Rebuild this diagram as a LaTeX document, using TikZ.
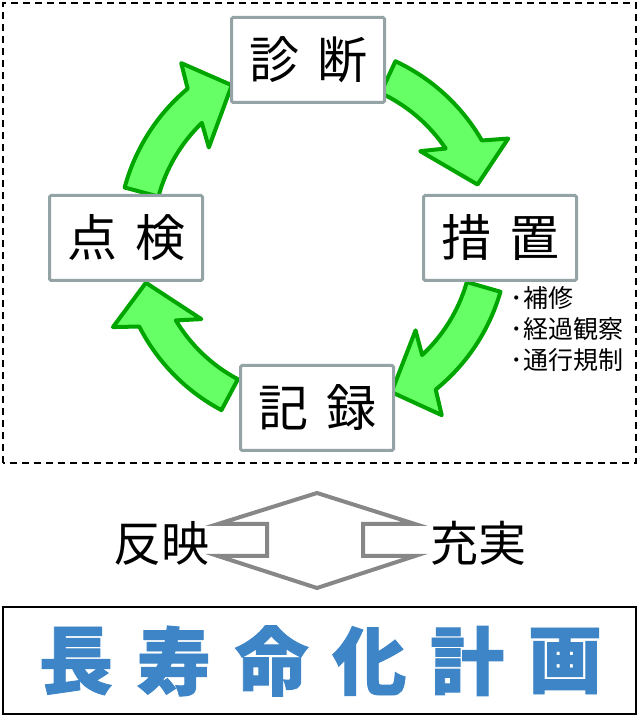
\documentclass[tikz,border=0pt]{standalone}
\usepackage{fontspec}
\setmainfont{Noto Sans CJK JP}
\newfontfamily\planfont{Noto Sans CJK JP}[BoldFeatures={FakeBold=1.2}]
\definecolor{leafgreen}{RGB}{102,255,102}
\definecolor{darkleaf}{RGB}{0,165,0}
\definecolor{boxgray}{RGB}{148,163,165}
\definecolor{swapgray}{RGB}{135,135,135}
\definecolor{planblue}{RGB}{61,133,198}
\tikzset{
  stage/.style={draw=boxgray, line width=3pt, fill=white, rounded corners=1.5pt,
    minimum width=153pt, minimum height=85pt, inner sep=0pt,
    font=\fontsize{50pt}{50pt}\selectfont},
  cyclearrow/.style={fill=leafgreen, draw=darkleaf, line width=4pt, line join=round},
  swaparrow/.style={draw=swapgray, line width=4pt, line join=miter},
  sidetext/.style={font=\fontsize{48pt}{48pt}\selectfont},
  plantext/.style={text=planblue, font=\fontsize{74pt}{74pt}\planfont\bfseries},
}
\begin{document}
\begin{tikzpicture}[x=1pt, y=1pt]
  \useasboundingbox (0,0) rectangle (640,718);
  \draw[line width=2pt, dash pattern=on 7pt off 5pt] (3,255) rectangle (636,715);
  \begin{scope}[shift={(313,480)}]
    \foreach \s in {65,-16,-118,165}{
      \pgfmathsetmacro{\base}{\s-33}
      \pgfmathsetmacro{\tip}{\s-47}
      \pgfmathsetmacro{\outend}{\base-2}
      \pgfmathsetmacro{\inend}{\base+2}
      \pgfmathsetmacro{\outhead}{\base-5}
      \pgfmathsetmacro{\inhead}{\base+7}
      \draw[cyclearrow] (\s:195) arc[start angle=\s, end angle=\outend, radius=195]
        -- (\outhead:219) -- (\tip:173) -- (\inhead:138) -- (\inend:160)
        arc[start angle=\inend, end angle=\s, radius=160] -- cycle;
    }
  \end{scope}
  \node[stage] (diag) at (308,658) {診\hspace{18pt}断};
  \node[stage] (meas) at (500,480) {措\hspace{18pt}置};
  \node[stage] (insp) at (126,480) {点\hspace{18pt}検};
  \node[stage] (rec) at (317,310) {記\hspace{18pt}録};
  \node[anchor=west, align=left, font=\fontsize{25pt}{31pt}\selectfont] (acts) at (507,389)
    {･補修\\･経過観察\\･通行規制};
  \draw[swaparrow] (317,225) -- (218,194) -- (267,194) -- (267,162) -- (218,162)
    -- (317,130) -- (415,162) -- (363,162) -- (363,194) -- (415,194) -- cycle;
  \node[sidetext] (refl) at (161,175) {反映};
  \node[sidetext] (enrich) at (478,175) {充実};
  \draw[line width=2pt] (3,4) rectangle (636,111);
  \foreach \ch [count=\i] in {長,寿,命,化,計,画}
    \node[plantext] (plan\i) at ({76+97.8*(\i-1)},57) {\ch};
\end{tikzpicture}
\end{document}
